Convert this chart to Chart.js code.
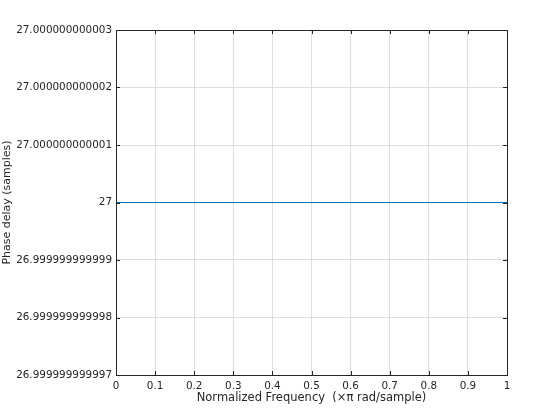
<!DOCTYPE html>
<html>
<head>
<meta charset="utf-8">
<script src="https://cdn.jsdelivr.net/npm/chart.js@4.4.0/dist/chart.umd.min.js"></script>
<style>
  html, body { margin: 0; padding: 0; background: #fff; }
  #wrap { width: 560px; height: 420px; }
</style>
</head>
<body>
<div id="wrap"><canvas id="phaseChart" width="560" height="420"></canvas></div>
<script>
// data
const freq = [0, 0.1, 0.2, 0.3, 0.4, 0.5, 0.6, 0.7, 0.8, 0.9, 1];
const delay = [27, 27, 27, 27, 27, 27, 27, 27, 27, 27, 27];
const xTicks = [0, 0.1, 0.2, 0.3, 0.4, 0.5, 0.6, 0.7, 0.8, 0.9, 1];
const yTicks = [26.999999999997, 26.999999999998, 26.999999999999, 27, 27.000000000001, 27.000000000002, 27.000000000003];
const yLabels = ["26.999999999997", "26.999999999998", "26.999999999999", "27", "27.000000000001", "27.000000000002", "27.000000000003"];

const axisColor = "#262626";
const gridColor = "#dedede";

// MATLAB style box with inward ticks
const boxPlugin = {
  id: "box",
  afterDraw(chart) {
    const c = chart.ctx, a = chart.chartArea;
    const xs = chart.scales.x, ys = chart.scales.y;
    c.save();
    c.strokeStyle = axisColor;
    c.lineWidth = 1;
    c.beginPath();
    xTicks.forEach(v => {
      const px = Math.round(xs.getPixelForValue(v)) + 0.5;
      c.moveTo(px, a.bottom); c.lineTo(px, a.bottom - 4);
      c.moveTo(px, a.top); c.lineTo(px, a.top + 4);
    });
    yTicks.forEach(v => {
      const py = Math.round(ys.getPixelForValue(v)) + 0.5;
      c.moveTo(a.left, py); c.lineTo(a.left + 4, py);
      c.moveTo(a.right, py); c.lineTo(a.right - 4, py);
    });
    c.stroke();
    c.strokeRect(Math.round(a.left) + 0.5, Math.round(a.top) + 0.5,
      Math.round(a.right - a.left), Math.round(a.bottom - a.top));
    c.restore();
  }
};

const ctx = document.getElementById("phaseChart").getContext("2d");
const phaseChart = new Chart(ctx, {
  type: "line",
  data: {
    datasets: [
      {
        data: freq.map((f, i) => ({ x: f, y: delay[i] })),
        borderColor: "#0072BD",
        borderWidth: 1.2,
        pointRadius: 0,
        fill: false,
        tension: 0,
      },
    ],
  },
  options: {
    responsive: false,
    animation: false,
    devicePixelRatio: 1,
    layout: { padding: { top: 30, right: 53, bottom: 12, left: 0 } },
    plugins: { legend: { display: false }, tooltip: { enabled: false } },
    scales: {
      x: {
        type: "linear",
        min: 0,
        max: 1,
        afterBuildTicks: s => { s.ticks = xTicks.map(v => ({ value: v })); },
        afterFit: s => { s.height = 33; },
        grid: { color: gridColor, drawTicks: false },
        border: { display: false },
        ticks: {
          color: axisColor,
          font: { family: "DejaVu Sans", size: 10.4 },
          padding: 5,
          maxRotation: 0,
          callback: v => String(v),
        },
        title: {
          display: true,
          text: "Normalized Frequency  (\u00d7\u03c0 rad/sample)",
          color: axisColor,
          font: { family: "DejaVu Sans", size: 11.5 },
          padding: { top: 2, bottom: 3 },
        },
      },
      y: {
        type: "linear",
        min: yTicks[0],
        max: yTicks[yTicks.length - 1],
        afterBuildTicks: s => { s.ticks = yTicks.map(v => ({ value: v })); },
        afterFit: s => { s.width = 116; },
        grid: { color: gridColor, drawTicks: false },
        border: { display: false },
        ticks: {
          color: axisColor,
          font: { family: "DejaVu Sans", size: 10.4 },
          padding: 4,
          callback: (v, i) => yLabels[i],
        },
        title: {
          display: true,
          text: "Phase delay (samples)",
          color: axisColor,
          font: { family: "DejaVu Sans", size: 11 },
          padding: { top: 1, bottom: 0 },
        },
      },
    },
  },
  plugins: [boxPlugin],
});
</script>
</body>
</html>
